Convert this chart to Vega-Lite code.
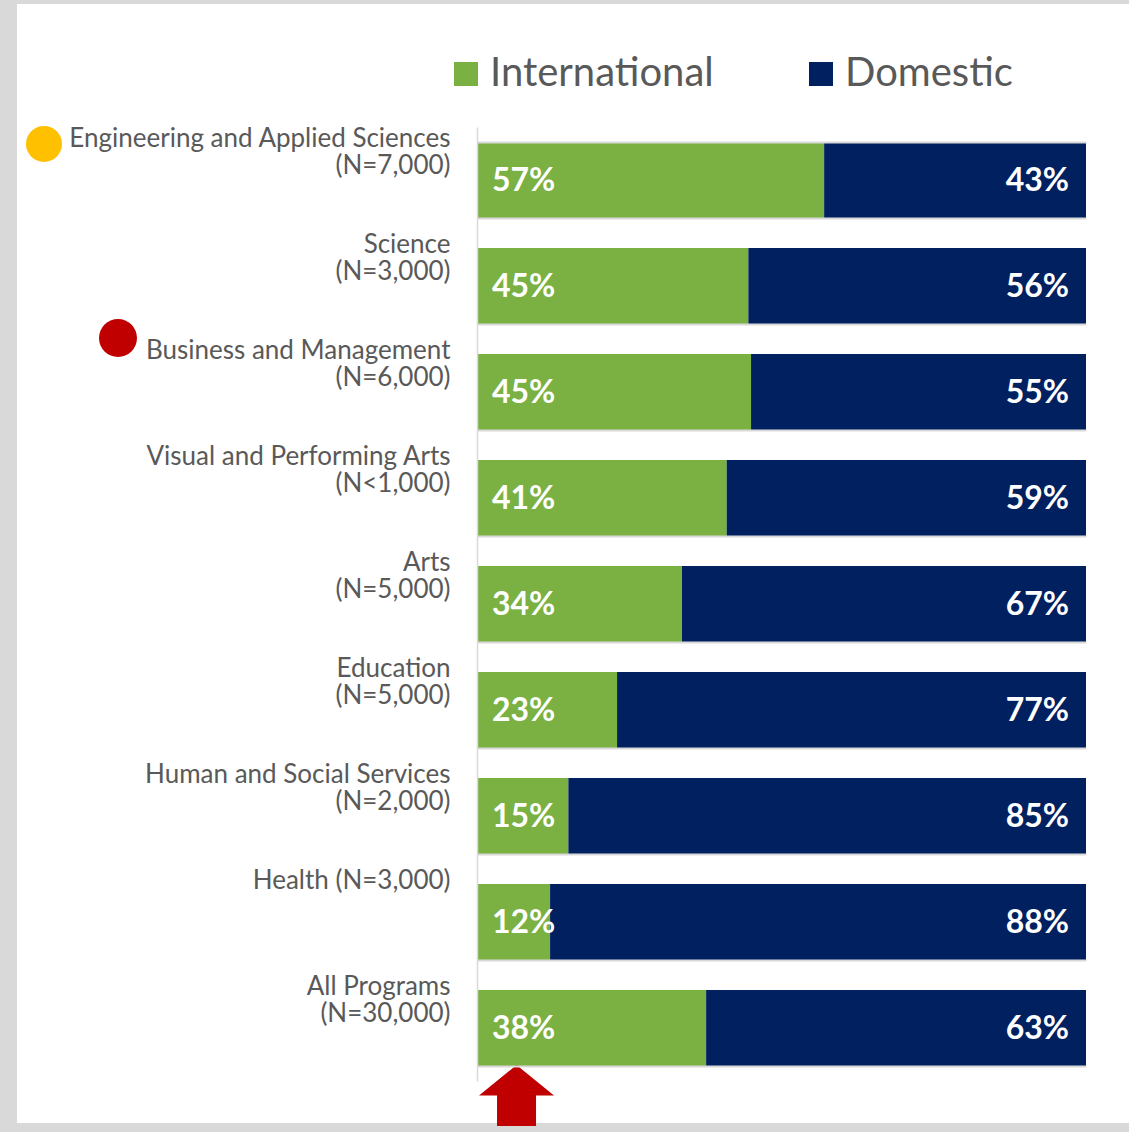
{
  "$schema": "https://vega.github.io/schema/vega-lite/v6.json",
  "width": 609,
  "height": 954,
  "autosize": {"type": "none"},
  "padding": {"left": 477, "top": 127, "right": 43, "bottom": 51},
  "background": "#d9d9d9",
  "config": {
    "font": "Lato",
    "view": {"stroke": null}
  },
  "datasets": {
    "bars": [
      {"category": "Engineering and Applied Sciences|(N=7,000)", "group": "International", "value": 0.57},
      {"category": "Engineering and Applied Sciences|(N=7,000)", "group": "Domestic", "value": 0.43},
      {"category": "Science|(N=3,000)", "group": "International", "value": 0.45},
      {"category": "Science|(N=3,000)", "group": "Domestic", "value": 0.56},
      {"category": "Business and Management|(N=6,000)", "group": "International", "value": 0.45},
      {"category": "Business and Management|(N=6,000)", "group": "Domestic", "value": 0.55},
      {"category": "Visual and Performing Arts|(N<1,000)", "group": "International", "value": 0.41},
      {"category": "Visual and Performing Arts|(N<1,000)", "group": "Domestic", "value": 0.59},
      {"category": "Arts|(N=5,000)", "group": "International", "value": 0.34},
      {"category": "Arts|(N=5,000)", "group": "Domestic", "value": 0.67},
      {"category": "Education|(N=5,000)", "group": "International", "value": 0.23},
      {"category": "Education|(N=5,000)", "group": "Domestic", "value": 0.77},
      {"category": "Human and Social Services|(N=2,000)", "group": "International", "value": 0.15},
      {"category": "Human and Social Services|(N=2,000)", "group": "Domestic", "value": 0.85},
      {"category": "Health (N=3,000)", "group": "International", "value": 0.12},
      {"category": "Health (N=3,000)", "group": "Domestic", "value": 0.88},
      {"category": "All Programs|(N=30,000)", "group": "International", "value": 0.38},
      {"category": "All Programs|(N=30,000)", "group": "Domestic", "value": 0.63}
    ],
    "markers": [
      {"category": "Engineering and Applied Sciences|(N=7,000)", "marker": "yellow"},
      {"category": "Business and Management|(N=6,000)", "marker": "red"},
      {"category": "All Programs|(N=30,000)", "marker": "arrow"},
      {"category": "Arts|(N=5,000)", "marker": "panel"}
    ]
  },
  "layer": [
    {
      "data": {"name": "markers"},
      "transform": [{"filter": "datum.marker === 'panel'"}],
      "mark": {"type": "point", "shape": "M-1,-1.0063L1,-1.0063L1,1.0063L-1,1.0063Z", "filled": true, "size": 1236544, "color": "white", "opacity": 1, "strokeWidth": 0},
      "encoding": {
        "y": {
          "field": "category",
          "type": "nominal",
          "bandPosition": -0.033,
          "scale": {
            "domain": [
              "Engineering and Applied Sciences|(N=7,000)",
              "Science|(N=3,000)",
              "Business and Management|(N=6,000)",
              "Visual and Performing Arts|(N<1,000)",
              "Arts|(N=5,000)",
              "Education|(N=5,000)",
              "Human and Social Services|(N=2,000)",
              "Health (N=3,000)",
              "All Programs|(N=30,000)"
            ],
            "paddingInner": 0.283,
            "paddingOuter": 0.1415
          },
          "axis": {
            "title": null,
            "zindex": 1,
            "labelExpr": "isValid(datum.value) ? split(datum.value, '|') : ''",
            "labelFont": "Lato",
            "labelFontSize": 26,
            "labelLineHeight": 27,
            "labelColor": "#595959",
            "labelAlign": "right",
            "labelBaseline": "top",
            "labelOffset": -55,
            "labelPadding": 27,
            "labelLimit": 500,
            "ticks": false,
            "tickSize": 0,
            "tickBand": "extent",
            "grid": true,
            "gridColor": "#d9d9d9",
            "gridWidth": 2,
            "domain": true,
            "domainColor": "#d9d9d9",
            "domainWidth": 1.5
          }
        },
        "x": {"datum": 0.1576, "type": "quantitative", "axis": null}
      }
    },
    {
      "data": {"name": "bars"},
      "mark": {"type": "bar"},
      "encoding": {
        "y": {"field": "category", "type": "nominal"},
        "x": {
          "field": "value",
          "type": "quantitative",
          "stack": "normalize",
          "scale": {"domain": [0, 1], "nice": false},
          "axis": null
        },
        "color": {
          "field": "group",
          "type": "nominal",
          "scale": {"domain": ["International", "Domestic"], "range": ["#7AB142", "#002060"]},
          "legend": {
            "title": null,
            "orient": "none",
            "direction": "horizontal",
            "legendX": -31,
            "legendY": -73,
            "zindex": 1,
            "symbolType": "square",
            "symbolSize": 576,
            "symbolStrokeWidth": 0,
            "labelFont": "Lato",
            "labelFontSize": 40,
            "labelColor": "#595959",
            "labelOffset": 4,
            "labelLimit": 500,
            "columnPadding": 87,
            "padding": 0
          }
        },
        "order": {"field": "group", "type": "nominal", "sort": "descending"}
      }
    },
    {
      "data": {"name": "bars"},
      "transform": [{"filter": "datum.group === 'International'"}],
      "mark": {"type": "text", "align": "left", "baseline": "middle", "dx": 15, "dy": 1, "fontSize": 32, "fontWeight": "bold", "font": "Lato", "color": "white"},
      "encoding": {
        "y": {"field": "category", "type": "nominal"},
        "x": {"datum": 0, "type": "quantitative", "axis": null},
        "text": {"field": "value", "type": "quantitative", "format": ".0%"}
      }
    },
    {
      "data": {"name": "bars"},
      "transform": [{"filter": "datum.group === 'Domestic'"}],
      "mark": {"type": "text", "align": "right", "baseline": "middle", "dx": -17, "dy": 1, "fontSize": 32, "fontWeight": "bold", "font": "Lato", "color": "white"},
      "encoding": {
        "y": {"field": "category", "type": "nominal"},
        "x": {"datum": 1, "type": "quantitative", "axis": null},
        "text": {"field": "value", "type": "quantitative", "format": ".0%"}
      }
    },
    {
      "data": {"name": "markers"},
      "transform": [{"filter": "datum.marker === 'yellow'"}],
      "mark": {"type": "point", "shape": "circle", "filled": true, "size": 1296, "color": "#FFC000", "opacity": 1},
      "encoding": {
        "y": {"field": "category", "type": "nominal", "bandPosition": 0.026},
        "x": {"datum": -0.711, "type": "quantitative", "axis": null}
      }
    },
    {
      "data": {"name": "markers"},
      "transform": [{"filter": "datum.marker === 'red'"}],
      "mark": {"type": "point", "shape": "circle", "filled": true, "size": 1444, "color": "#C00000", "opacity": 1},
      "encoding": {
        "y": {"field": "category", "type": "nominal", "bandPosition": -0.21},
        "x": {"datum": -0.5895, "type": "quantitative", "axis": null}
      }
    },
    {
      "data": {"name": "markers"},
      "transform": [{"filter": "datum.marker === 'arrow'"}],
      "mark": {"type": "point", "shape": "M0,-0.813L1,0L0.52,0L0.52,0.813L-0.52,0.813L-0.52,0L-1,0Z", "filled": true, "size": 5625, "color": "#C00000", "opacity": 1},
      "encoding": {
        "y": {"field": "category", "type": "nominal", "bandPosition": 1.388},
        "x": {"datum": 0.0649, "type": "quantitative", "axis": null}
      }
    }
  ]
}
